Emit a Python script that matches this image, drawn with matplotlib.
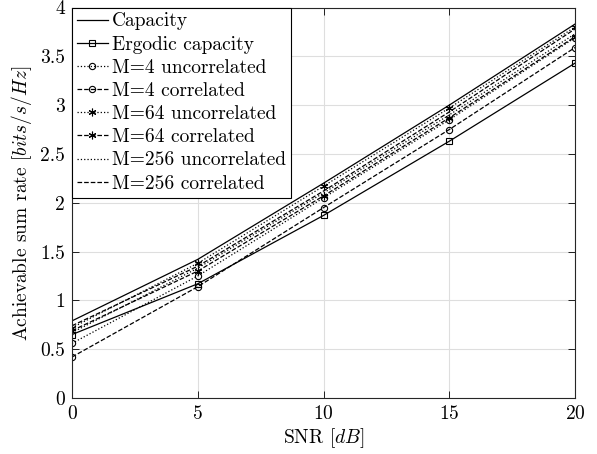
import numpy as np
import matplotlib
matplotlib.use("Agg")
import matplotlib.pyplot as plt

plt.rcParams['font.family'] = 'serif'
plt.rcParams['font.serif'] = ['cmr10']
plt.rcParams['mathtext.fontset'] = 'cm'
plt.rcParams['axes.formatter.use_mathtext'] = True

snr = [0, 5, 10, 15, 20]
capacity = [0.79, 1.42, 2.20, 3.00, 3.83]
ergodic = [0.65, 1.17, 1.87, 2.63, 3.43]
m4_uncorr = [0.56, 1.25, 2.05, 2.85, 3.69]
m4_corr = [0.42, 1.14, 1.95, 2.75, 3.59]
m64_uncorr = [0.72, 1.38, 2.17, 2.97, 3.80]
m64_corr = [0.69, 1.30, 2.07, 2.87, 3.70]
m256_uncorr = [0.67, 1.33, 2.10, 2.90, 3.73]
m256_corr = [0.74, 1.35, 2.12, 2.93, 3.78]

labels = ["Capacity", "Ergodic capacity", "M=4 uncorrelated", "M=4 correlated",
          "M=64 uncorrelated", "M=64 correlated", "M=256 uncorrelated", "M=256 correlated"]

fig = plt.figure(figsize=(5.97, 4.54), dpi=100)
ax = fig.add_axes([72/597, 1-398/454, (575-72)/597, (398-7.5)/454])

ast = (6, 2, 0)
kw = dict(color='black', linewidth=0.9, markerfacecolor='none', markeredgewidth=0.8)
ax.plot(snr, capacity, '-', label=labels[0], **kw)
ax.plot(snr, ergodic, '-', marker='s', markersize=4, label=labels[1], **kw)
ax.plot(snr, m4_uncorr, ':', marker='o', markersize=4.5, label=labels[2], **kw)
ax.plot(snr, m4_corr, '--', marker='o', markersize=4.5, label=labels[3], **kw)
ax.plot(snr, m64_uncorr, ':', marker=ast, markersize=5.5, label=labels[4], **kw)
ax.plot(snr, m64_corr, '--', marker=ast, markersize=5.5, label=labels[5], **kw)
ax.plot(snr, m256_uncorr, ':', label=labels[6], **kw)
ax.plot(snr, m256_corr, '--', label=labels[7], **kw)

ax.set_xlim(0, 20)
ax.set_ylim(0, 4)
ax.set_xticks([0, 5, 10, 15, 20])
ax.set_yticks(np.arange(0, 4.01, 0.5))
ax.set_yticklabels(['0', '0.5', '1', '1.5', '2', '2.5', '3', '3.5', '4'])
ax.tick_params(direction='in', labelsize=14, length=5, width=0.6, top=True, right=True, pad=5)
ax.grid(True, color='#dedede', linewidth=0.8)
ax.set_axisbelow(True)
for s in ax.spines.values():
    s.set_linewidth(0.8)
    s.set_color('#262626')

ax.set_xlabel(r'SNR [$dB$]', fontsize=14, labelpad=2)
ax.set_ylabel(r'Achievable sum rate [$bits/s/Hz$]', fontsize=14, labelpad=4)

leg = ax.legend(loc='upper left', borderaxespad=0, fontsize=14, handlelength=1.6,
                handletextpad=0.2, labelspacing=0.27, borderpad=0.25, fancybox=False,
                edgecolor='black', framealpha=1)
leg.get_frame().set_linewidth(0.8)

fig.savefig('out.png', dpi=100)
